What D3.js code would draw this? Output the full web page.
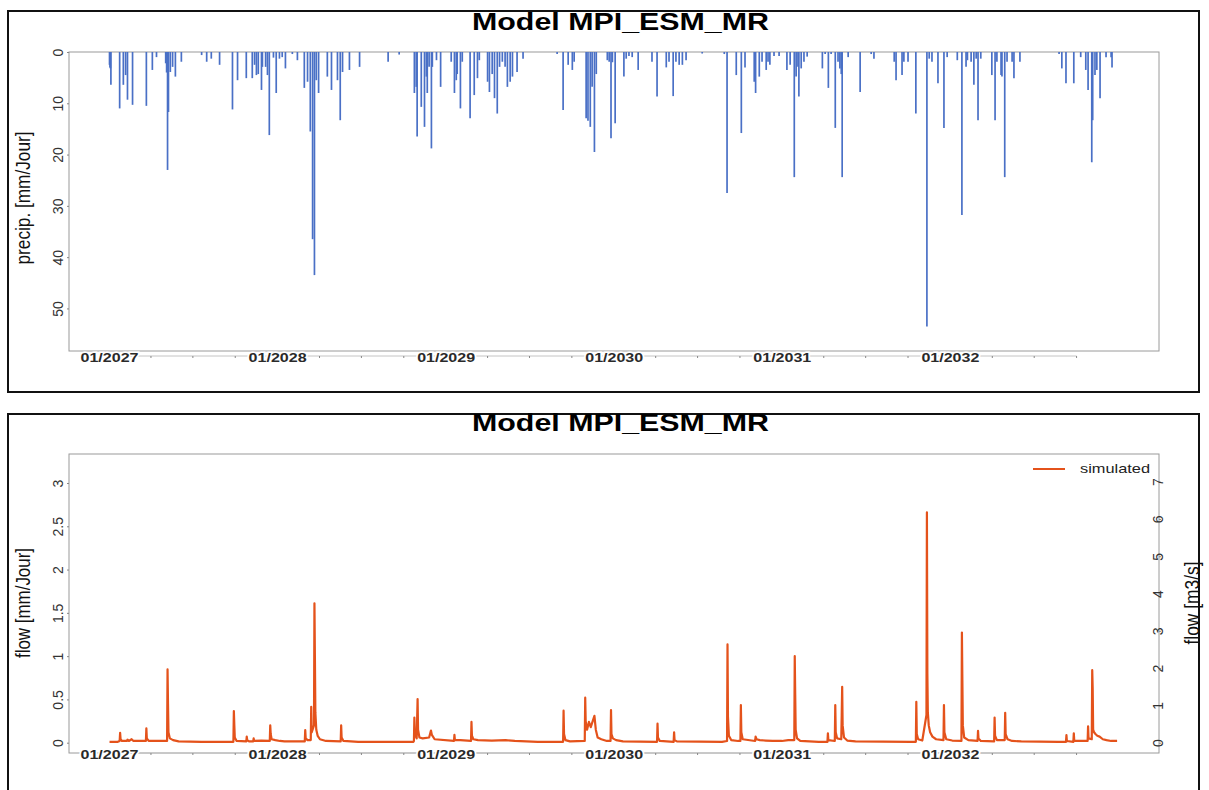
<!DOCTYPE html>
<html>
<head>
<meta charset="utf-8">
<script src="https://cdnjs.cloudflare.com/ajax/libs/d3/7.8.5/d3.min.js"></script>
<style>
  body { margin: 0; background: #fff; }
  svg { display: block; font-family: "Liberation Sans", Arial, sans-serif; }
</style>
</head>
<body>
<div id="chart"></div>
<script>
'use strict';

// daily series, day 0 = 01/01/2027
const modelName = "Model MPI_ESM_MR";
const firstDay = Date.UTC(2027, 0, 1);
const lastDay = 2191;

const precipDay = [0,1,2,3,22,30,35,39,50,80,93,102,122,124,126,128,132,137,143,156,200,211,221,239,267,278,297,310,315,319,323,330,332,339,343,347,356,362,369,375,382,397,408,423,430,436,441,445,449,454,473,482,495,501,506,521,543,605,629,662,666,668,677,684,688,690,694,699,701,710,719,742,749,753,755,762,766,783,792,799,803,821,825,831,836,842,847,853,859,864,870,875,885,898,972,985,996,1005,1009,1035,1039,1044,1048,1053,1057,1081,1085,1089,1092,1098,1117,1122,1128,1135,1148,1178,1189,1209,1215,1224,1230,1237,1244,1252,1287,1335,1341,1361,1372,1380,1400,1403,1411,1417,1426,1430,1434,1443,1454,1471,1478,1487,1491,1495,1497,1502,1508,1515,1548,1554,1561,1567,1576,1582,1586,1589,1591,1604,1630,1654,1660,1704,1708,1721,1725,1734,1751,1775,1780,1786,1799,1812,1819,1841,1851,1860,1863,1871,1877,1882,1886,1892,1916,1923,1927,1936,1938,1944,1949,1960,1964,1977,2062,2068,2077,2094,2109,2120,2125,2133,2135,2140,2144,2151,2164,2175,2177];
const precipMm = [2.5,3,3.2,6.4,11,6.4,4.5,9.3,10.3,10.5,3.5,1,2.2,4,23,11.7,3.9,2.9,4.8,1.9,0.6,1.9,1.3,2.5,11.2,5.5,5.1,5.1,2.5,4.5,4.3,7.4,2.9,2.9,4.5,16.2,1.1,8,1.3,1,3.2,0.4,1.6,7,5.8,15.5,36.5,43.5,5.5,8,4.8,7.4,5.5,13.3,3.9,3.5,2.9,1.9,0.5,8,6.8,16.5,10.7,14.6,4.8,8,2.9,18.8,2.9,1.6,6.8,1.9,8,5.5,4.3,11,1.9,12.9,8.4,5.1,1.6,5.8,7.8,4.3,9,12,2.9,1.9,2.9,6.8,5.8,4.8,3.9,1.3,0.4,11.3,2.5,3.5,1.9,12.9,13.4,14.6,6.8,19.5,4.3,1.6,1.9,16.8,2,13.9,4.8,1.3,0.8,1,3.5,1.9,8.7,3,1.9,8.6,1.9,2.5,2.5,1.6,0.3,0.4,27.5,4.5,15.8,3,5.8,8,4.8,1.9,3.5,1.9,2.5,0.8,0.8,3.5,2.5,24.4,4.8,2.9,8.7,3.2,1.9,0.9,3.2,0.4,7,0.4,14.8,1.9,3.2,4.3,24.4,1,7.8,0.4,1.3,1.9,5.5,4.5,1.9,1.9,12,53.5,1.3,1.9,6.1,14.8,1,1.6,31.8,2.9,1.6,1.9,6.4,1.3,13.3,1.3,4.5,13.3,1.9,4.5,4.8,24.4,1.9,1.9,5.1,1.9,0.4,3.2,6.1,6.1,1,3.5,7.4,21.5,13.3,4.5,3.5,9,1,1,3];

const flowDay = [0,18,22,23,24,27,38,39,42,48,52,79,80,81,85,125,126,127,128,131,138,150,200,269,270,271,272,276,297,298,299,303,312,313,314,330,348,349,350,352,360,370,380,424,425,426,430,437,438,439,444,445,446,447,449,452,457,470,502,503,504,508,540,660,661,662,663,667,669,670,673,680,694,698,700,706,748,749,750,762,785,786,787,790,800,830,860,880,930,985,986,987,990,1000,1032,1033,1034,1037,1041,1045,1053,1056,1060,1068,1080,1088,1089,1090,1093,1100,1115,1189,1190,1191,1195,1225,1226,1227,1232,1330,1341,1342,1343,1345,1350,1365,1370,1371,1372,1375,1402,1403,1405,1412,1425,1440,1460,1474,1487,1488,1489,1490,1493,1500,1540,1559,1560,1561,1575,1576,1577,1580,1589,1590,1591,1592,1595,1602,1620,1740,1751,1752,1753,1756,1765,1774,1775,1776,1777,1779,1782,1787,1795,1811,1812,1813,1817,1830,1850,1851,1852,1853,1856,1865,1885,1886,1887,1892,1921,1922,1923,1927,1944,1945,1946,1950,1960,1980,2060,2077,2078,2079,2093,2094,2095,2124,2125,2126,2133,2134,2135,2136,2138,2141,2145,2150,2157,2165,2175,2188];
const flowMm = [0.01,0.01,0.02,0.115,0.04,0.02,0.02,0.035,0.02,0.04,0.02,0.02,0.166,0.05,0.02,0.02,0.846,0.45,0.12,0.05,0.03,0.015,0.01,0.01,0.366,0.2,0.06,0.02,0.015,0.07,0.03,0.015,0.015,0.05,0.02,0.025,0.02,0.2,0.1,0.04,0.03,0.02,0.015,0.015,0.146,0.05,0.03,0.03,0.415,0.12,0.2,1.61,0.98,0.35,0.15,0.08,0.04,0.02,0.015,0.2,0.06,0.02,0.01,0.01,0.02,0.29,0.1,0.05,0.504,0.15,0.06,0.05,0.06,0.14,0.09,0.04,0.02,0.09,0.03,0.03,0.02,0.24,0.08,0.04,0.03,0.025,0.03,0.02,0.01,0.01,0.37,0.1,0.03,0.015,0.02,0.52,0.25,0.15,0.24,0.18,0.31,0.15,0.06,0.04,0.02,0.02,0.377,0.1,0.05,0.03,0.015,0.01,0.22,0.06,0.02,0.01,0.12,0.03,0.015,0.01,0.02,1.135,0.3,0.08,0.03,0.02,0.02,0.435,0.12,0.04,0.02,0.07,0.04,0.03,0.025,0.02,0.02,0.03,0.03,1.0,0.56,0.15,0.05,0.02,0.01,0.01,0.108,0.03,0.02,0.435,0.12,0.05,0.04,0.32,0.646,0.2,0.06,0.025,0.015,0.01,0.01,0.473,0.1,0.04,0.025,0.32,2.66,0.8,0.35,0.2,0.12,0.07,0.04,0.03,0.435,0.12,0.04,0.025,0.02,1.273,0.72,0.2,0.06,0.03,0.02,0.138,0.05,0.02,0.015,0.29,0.08,0.03,0.03,0.346,0.1,0.04,0.02,0.015,0.01,0.01,0.089,0.02,0.01,0.108,0.02,0.02,0.19,0.05,0.04,0.838,0.63,0.15,0.12,0.1,0.08,0.07,0.04,0.03,0.02,0.02];

const precipTicks = [0, 10, 20, 30, 40, 50];
const flowTicks = [0, 0.5, 1, 1.5, 2, 2.5, 3];
const qTicks = [0, 1, 2, 3, 4, 5, 6, 7];
const legendLabel = "simulated";

const width = 1209, height = 790;
const blue = "#4a70c6", orange = "#e4521b", boxGrey = "#9a9a9a";

let dayDate = d => new Date(firstDay + d * 864e5);

let svg = d3.select("#chart").append("svg")
    .attr("width", width)
    .attr("height", height);

let x = d3.scaleUtc()
    .domain([dayDate(-88), dayDate(lastDay + 88)])
    .range([69, 1159]);

// quarterly ticks, label on january only
let quarterTicks = d3.utcMonth.every(3).range(dayDate(0), dayDate(lastDay - 60));
let fmt = d3.utcFormat("%m/%Y");

function drawTimeAxis(g, yLine, yText) {
    g.append("line")
        .attr("x1", x(quarterTicks[0])).attr("x2", x(quarterTicks[quarterTicks.length - 1]))
        .attr("y1", yLine).attr("y2", yLine)
        .attr("stroke", "#c4c4c4");
    g.selectAll("line.qt")
        .data(quarterTicks)
        .enter().append("line")
        .attr("class", "qt")
        .attr("x1", d => x(d)).attr("x2", d => x(d))
        .attr("y1", yLine).attr("y2", yLine + 2)
        .attr("stroke", "#888");
    g.selectAll("text.yr")
        .data(quarterTicks.filter(d => d.getUTCMonth() === 0))
        .enter().append("text")
        .attr("class", "yr")
        .attr("x", d => x(d))
        .attr("y", yText)
        .attr("text-anchor", "middle")
        .attr("font-size", 13.5)
        .attr("font-weight", "bold")
        .attr("fill", "#2a2a2a")
        .attr("textLength", 58)
        .attr("lengthAdjust", "spacingAndGlyphs")
        .attr("stroke", "#fff").attr("stroke-width", 3).attr("paint-order", "stroke")
        .text(d => fmt(d));
}

function rotatedLabels(axisG, dx) {
    axisG.selectAll("text")
        .attr("x", 0).attr("dy", 0)
        .attr("text-anchor", "middle")
        .attr("font-size", 14)
        .attr("fill", "#333")
        .attr("transform", `translate(${dx},0) rotate(-90)`);
}

function title(g, y) {
    g.append("text")
        .attr("x", 620.5).attr("y", y)
        .attr("text-anchor", "middle")
        .attr("font-size", 23.5)
        .attr("font-weight", "bold")
        .attr("textLength", 297)
        .attr("lengthAdjust", "spacingAndGlyphs")
        .text(modelName);
}

function sideTitle(g, tx, ty, len, txt) {
    g.append("text")
        .attr("transform", `translate(${tx},${ty}) rotate(-90)`)
        .attr("text-anchor", "middle")
        .attr("font-size", 21)
        .attr("textLength", len)
        .attr("lengthAdjust", "spacingAndGlyphs")
        .attr("fill", "#111")
        .text(txt);
}

// ---------- top panel : precipitation ----------
let precipPanel = svg.append("g");

precipPanel.append("rect")
    .attr("x", 8).attr("y", 11).attr("width", 1191).attr("height", 381)
    .attr("fill", "none").attr("stroke", "#111").attr("stroke-width", 2);

let yP = d3.scaleLinear().domain([0, 58.3]).range([52, 351]);

precipPanel.append("rect")
    .attr("x", 69).attr("y", 52).attr("width", 1090).attr("height", 299)
    .attr("fill", "none").attr("stroke", boxGrey);

precipPanel.selectAll("line.bar")
    .data(precipDay.map((d, i) => ({ day: d, v: precipMm[i] })))
    .enter().append("line")
    .attr("class", "bar")
    .attr("x1", d => x(dayDate(d.day))).attr("x2", d => x(dayDate(d.day)))
    .attr("y1", yP(0)).attr("y2", d => yP(d.v))
    .attr("stroke", blue).attr("stroke-width", 1.7);

let pAxis = precipPanel.append("g")
    .attr("transform", "translate(69,0)")
    .call(d3.axisLeft(yP).tickValues(precipTicks).tickSize(2).tickFormat(d3.format("d")));
pAxis.select(".domain").remove();
pAxis.selectAll(".tick line").attr("stroke", "#888");
rotatedLabels(pAxis, -6);

drawTimeAxis(precipPanel, 356, 362);
title(precipPanel, 30);
sideTitle(precipPanel, 30, 198, 133, "precip. [mm/Jour]");

// ---------- bottom panel : flow ----------
let flowPanel = svg.append("g");

flowPanel.append("rect")
    .attr("x", 8).attr("y", 414).attr("width", 1191).attr("height", 390)
    .attr("fill", "none").attr("stroke", "#111").attr("stroke-width", 2);

let yF = d3.scaleLinear().domain([-0.119, 3.335]).range([753, 454]);
let yQ = d3.scaleLinear().domain([-0.276, 7.742]).range([753, 454]);

flowPanel.append("rect")
    .attr("x", 69).attr("y", 454).attr("width", 1090).attr("height", 299)
    .attr("fill", "none").attr("stroke", boxGrey);

let flowLine = d3.line()
    .x(d => x(dayDate(d.day)))
    .y(d => yF(d.v));

flowPanel.append("path")
    .datum(flowDay.map((d, i) => ({ day: d, v: flowMm[i] })))
    .attr("d", flowLine)
    .attr("fill", "none")
    .attr("stroke", orange)
    .attr("stroke-width", 2.2)
    .attr("stroke-linejoin", "round");

let fAxis = flowPanel.append("g")
    .attr("transform", "translate(69,0)")
    .call(d3.axisLeft(yF).tickValues(flowTicks).tickSize(2).tickFormat(d => d));
fAxis.select(".domain").remove();
fAxis.selectAll(".tick line").attr("stroke", "#888");
rotatedLabels(fAxis, -6);

let qAxis = flowPanel.append("g")
    .attr("transform", "translate(1159,0)")
    .call(d3.axisRight(yQ).tickValues(qTicks).tickSize(2).tickFormat(d3.format("d")));
qAxis.select(".domain").remove();
qAxis.selectAll(".tick line").attr("stroke", "#888");
rotatedLabels(qAxis, 4);

drawTimeAxis(flowPanel, 753, 759);
title(flowPanel, 431);
sideTitle(flowPanel, 30, 603, 110, "flow [mm/Jour]");
sideTitle(flowPanel, 1199, 603, 83, "flow [m3/s]");

// legend
flowPanel.append("line")
    .attr("x1", 1033).attr("x2", 1065).attr("y1", 469).attr("y2", 469)
    .attr("stroke", orange).attr("stroke-width", 2);
flowPanel.append("text")
    .attr("x", 1080).attr("y", 473)
    .attr("font-size", 13)
    .attr("textLength", 70)
    .attr("lengthAdjust", "spacingAndGlyphs")
    .attr("fill", "#222")
    .text(legendLabel);
</script>
</body>
</html>
